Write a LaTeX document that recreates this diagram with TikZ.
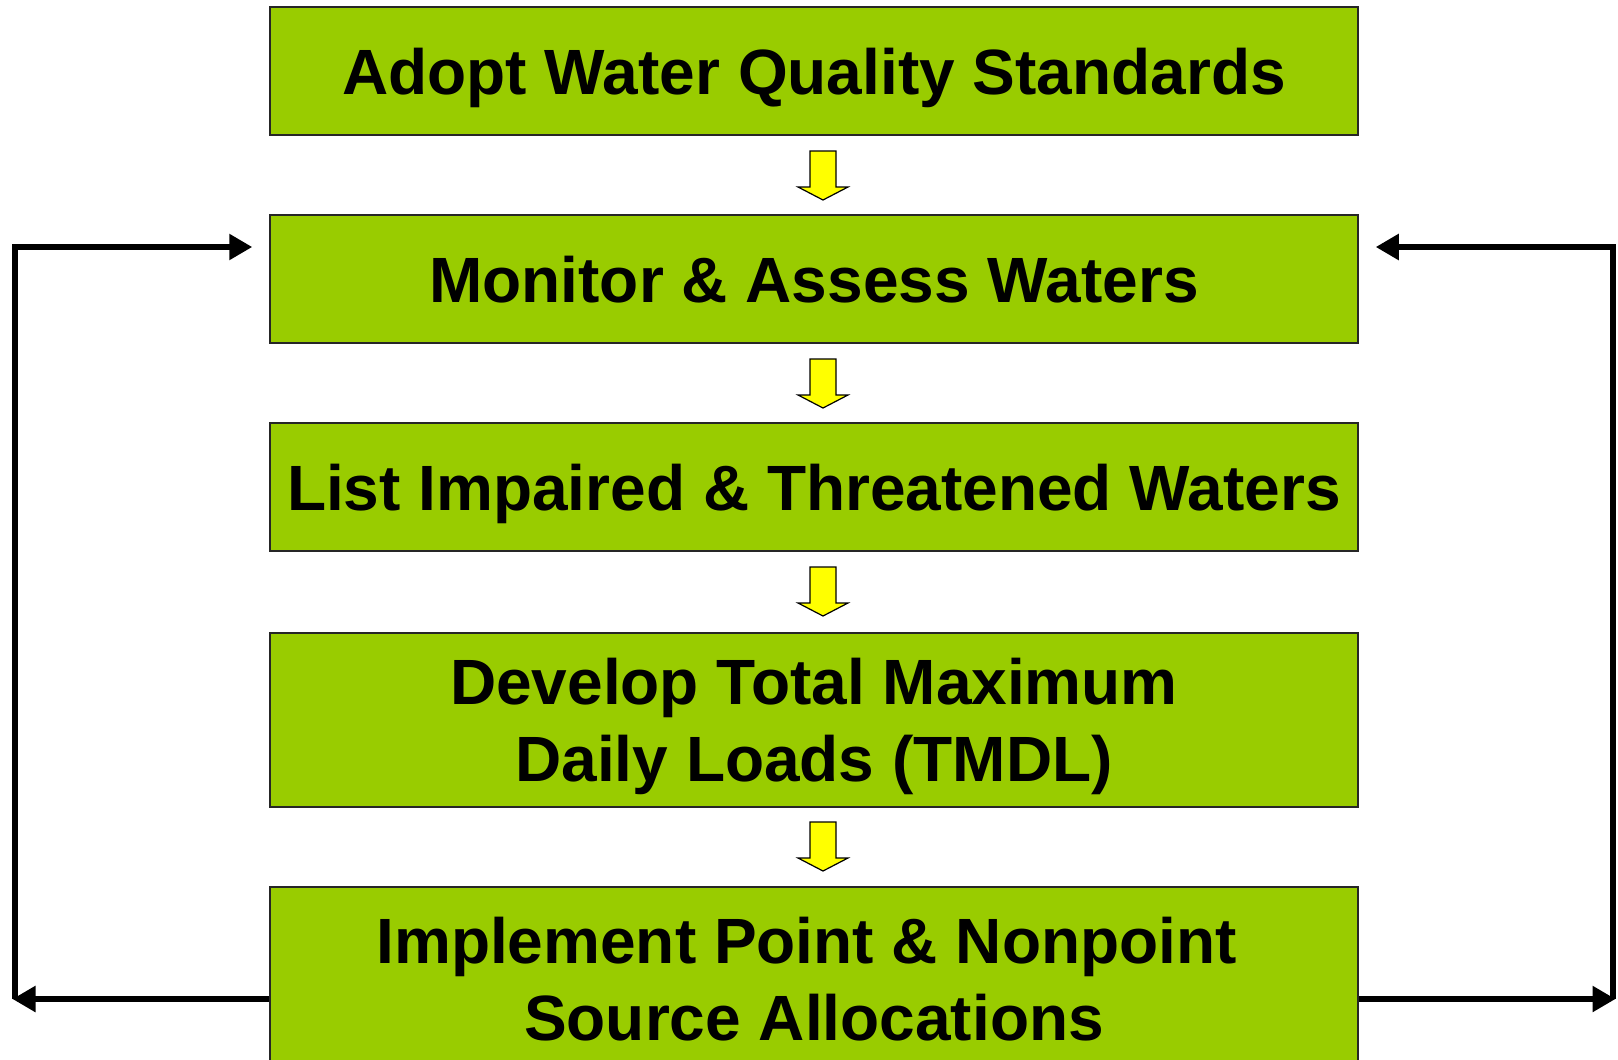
\documentclass[tikz,border=0pt]{standalone}
\usepackage{fontspec}
\setmainfont{Liberation Sans}
\usetikzlibrary{arrows.meta}
\definecolor{boxgreen}{HTML}{99CC00}
\definecolor{stepyellow}{HTML}{FFFF00}
\begin{document}
\begin{tikzpicture}[x=1pt,y=-1pt,
  stagebox/.style={draw=black!85, line width=1.5pt, fill=boxgreen,
    minimum width=1088pt, inner sep=0pt, align=center,
    text height=46pt, text depth=0pt,
    font=\fontsize{64}{77}\selectfont\bfseries},
  twoline/.style={text height=123pt},
  flowarrow/.style={draw=black, line width=1.2pt, fill=stepyellow, line join=miter},
  loopline/.style={line width=5.5pt, line join=miter},
  looptip/.style={-{Triangle[length=23pt,width=25pt]}}
]
\useasboundingbox (0,0) rectangle (1618,1060);
\clip (0,0) rectangle (1618,1060);

% process stages
\node[stagebox, minimum height=128pt] (b1) at (814,71) {Adopt Water Quality Standards};
\node[stagebox, minimum height=128pt] (b2) at (814,279) {Monitor \& Assess Waters};
\node[stagebox, minimum height=128pt] (b3) at (814,487) {List Impaired \& Threatened Waters};
\node[stagebox, twoline, minimum height=174pt] (b4) at (814,720) {Develop Total Maximum\\Daily Loads (TMDL)};
\node[stagebox, twoline, minimum height=183pt] (b5) at (814,978.5) {Implement Point \& Nonpoint\hspace*{15pt}\\Source Allocations};

% block arrows between stages (tip coordinates)
\coordinate (t1) at (823,200);
\coordinate (t2) at (823,408);
\coordinate (t3) at (823,616);
\coordinate (t4) at (823,871);
\foreach \t in {t1,t2,t3,t4}{
  \draw[flowarrow] (\t) -- ++(-25,-13) -- ++(12,0) -- ++(0,-36) -- ++(26,0)
    -- ++(0,36) -- ++(12,0) -- cycle;
}

% feedback loops
\coordinate (lc) at (15,999);
\coordinate (lt) at (15,247);
\coordinate (rc) at (1613,999);
\coordinate (rt) at (1613,247);
\draw[loopline, looptip] (b5.west |- lc) -- ([xshift=-2.5pt]lc);
\draw[loopline, looptip] (lc) -- (lt) -- ([xshift=-17pt]b2.west |- lt);
\draw[loopline, looptip] (b5.east |- rc) -- ([xshift=2.5pt]rc);
\draw[loopline, looptip] (rc) -- (rt) -- ([xshift=17pt]b2.east |- rt);
\end{tikzpicture}
\end{document}
